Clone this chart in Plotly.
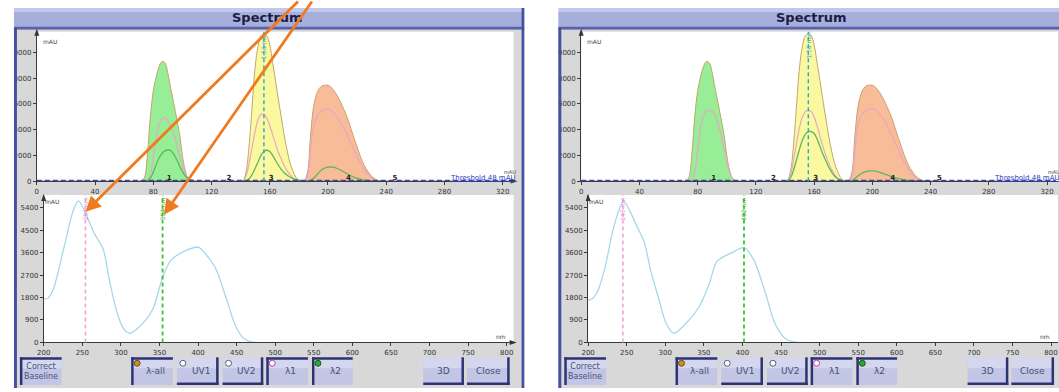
import plotly.graph_objects as go

W, H = 1059, 392
def X(p): return p / W
def Y(p): return 1 - p / H

# ---------------- data ----------------
# chromatogram (top plots), retention axis
chrom_ticks = [0, 40, 80, 120, 160, 200, 240, 280, 320]
chrom_yticks = [0, 2000, 4000, 6000, 8000, 10000]
spec_ticks = [200, 250, 300, 350, 400, 450, 500, 550, 600, 650, 700, 750, 800]
spec_yticks = [0, 900, 1800, 2700, 3600, 4500, 5400]

t_green = [72, 74, 76, 78, 80, 82, 84, 86, 88, 90, 92, 94, 96, 98, 100, 102, 104, 106, 108]
green_outer = [0, 300, 2100, 5000, 7000, 8100, 8900, 9300, 9200, 8400, 7200, 6100, 4900, 3700, 2000, 800, 200, 30, 0]
green_pink_L = [0, 0, 100, 500, 1800, 3300, 4400, 4850, 4900, 4700, 4200, 3700, 2900, 2000, 1200, 500, 150, 30, 0]
green_green_L = [0, 0, 50, 250, 700, 1300, 1800, 2150, 2350, 2420, 2380, 2100, 1700, 1200, 750, 400, 200, 100, 50]
green_pink_R = [0, 0, 100, 700, 2400, 4200, 5100, 5450, 5500, 5450, 5100, 4500, 3600, 2600, 1500, 700, 200, 50, 0]

t_yellow = [140, 142, 144, 146, 148, 150, 152, 154, 156, 158, 160, 162, 164, 166, 168, 170, 172, 174, 176, 178, 180, 182, 184]
yellow_outer = [0, 100, 900, 3000, 6000, 8900, 10500, 11300, 11450, 11300, 10600, 9200, 7800, 6300, 4900, 3500, 2350, 1400, 770, 300, 80, 10, 0]
yellow_pink_L = [0, 50, 500, 1500, 2700, 3900, 4800, 5200, 5200, 4900, 4300, 3600, 2900, 2200, 1700, 1200, 800, 500, 250, 100, 30, 0, 0]
yellow_green_L = [0, 0, 50, 200, 550, 1000, 1500, 2000, 2300, 2400, 2300, 2000, 1600, 1230, 900, 650, 450, 300, 200, 130, 80, 40, 20]
yellow_pink_R = [0, 100, 600, 1700, 3000, 4200, 5000, 5400, 5500, 5400, 5000, 4300, 3500, 2700, 2000, 1400, 900, 500, 250, 100, 30, 0, 0]
yellow_green_R = [0, 50, 300, 900, 1700, 2500, 3200, 3650, 3850, 3850, 3700, 3300, 2700, 2100, 1600, 1100, 700, 400, 200, 100, 40, 10, 0]

t_orange = [184, 186, 188, 190, 192, 194, 196, 198, 200, 202, 204, 206, 208, 210, 212, 214, 216, 218, 220, 222, 224, 226, 228, 230, 232, 234, 236, 238]
orange_outer = [0, 700, 3500, 5700, 6700, 7200, 7400, 7460, 7450, 7300, 7050, 6700, 6300, 5800, 5300, 4700, 4000, 3300, 2650, 2000, 1450, 1000, 650, 380, 200, 60, 10, 0]
orange_pink_L = [0, 400, 2500, 4200, 4900, 5300, 5500, 5600, 5600, 5500, 5300, 5000, 4700, 4300, 3900, 3400, 2900, 2400, 1900, 1450, 1050, 700, 450, 250, 120, 30, 0, 0]
orange_green_L = [0, 0, 50, 200, 450, 700, 900, 1020, 1080, 1100, 1080, 1000, 900, 780, 650, 520, 400, 300, 220, 150, 100, 70, 40, 20, 10, 0, 0, 0]
orange_pink_R = [0, 400, 2500, 4200, 5000, 5350, 5550, 5600, 5600, 5550, 5350, 5050, 4750, 4350, 3900, 3400, 2900, 2400, 1900, 1450, 1050, 700, 450, 250, 120, 30, 0, 0]
orange_green_R = [0, 50, 200, 400, 550, 680, 760, 790, 790, 770, 720, 650, 570, 480, 400, 320, 250, 190, 140, 100, 70, 40, 20, 10, 0, 0, 0, 0]

baseline_t = [0, 326]
baseline_v = [0, 0]
threshold = 48
selected_time = 156
peak_ids = ["1", "2", "3", "4", "5"]
peak_times = [91, 132, 161, 214, 246]

# UV spectra (bottom plots)
wl_L = [200, 205, 212, 220, 230, 238, 245, 253, 260, 266, 277, 285, 294, 303, 311, 324, 341, 354, 365, 384, 400, 410, 423, 436, 449, 459, 470, 480]
abs_L = [1750, 1760, 2100, 3000, 4300, 5270, 5670, 5250, 4750, 4340, 3740, 2500, 1310, 570, 370, 630, 1310, 2600, 3300, 3680, 3820, 3540, 2950, 1820, 630, 170, 10, 0]
wl_R = [200, 204, 211, 221, 232, 241, 246, 254, 264, 273, 281, 292, 301, 311, 327, 344, 357, 367, 387, 402, 415, 430, 442, 455, 468, 480]
abs_R = [1700, 1720, 1960, 2890, 4480, 5390, 5670, 5270, 4600, 4000, 2890, 1700, 770, 370, 770, 1430, 2350, 3250, 3610, 3800, 3290, 1960, 770, 170, 10, 0]
lam1 = [254, 245]
lam2 = [354, 402]

# ---------------- figure ----------------
fig = go.Figure()

OUTLINE = '#c4a46c'
PINK = '#e8a6c4'
GREENL = '#5cb85c'

windows = [
    dict(dx=0, xt='x', yt='y', xb='x2', yb='y2',
         inner=[green_pink_L, yellow_pink_L, orange_pink_L],
         inner_g=[green_green_L, yellow_green_L, orange_green_L],
         wl=wl_L, ab=abs_L, l1=lam1[0], l2=lam2[0]),
    dict(dx=548, xt='x3', yt='y3', xb='x4', yb='y4',
         inner=[green_pink_R, yellow_pink_R, orange_pink_R],
         inner_g=[None, yellow_green_R, orange_green_R],
         wl=wl_R, ab=abs_R, l1=lam1[1], l2=lam2[1]),
]

peaks = [(t_green, green_outer, 'rgba(140,236,140,0.9)'),
         (t_yellow, yellow_outer, 'rgba(251,248,150,0.9)'),
         (t_orange, orange_outer, 'rgba(248,184,146,0.95)')]

shapes = []
annotations = []

def rect(x0, y0, x1, y1, color, layer='below'):
    shapes.append(dict(type='rect', xref='paper', yref='paper', x0=X(x0), x1=X(x1), y0=Y(y1), y1=Y(y0),
                       fillcolor=color, line=dict(width=0), layer=layer))

def text(x, y, s, size=7, color='#333', **kw):
    d = dict(xref='paper', yref='paper', x=X(x), y=Y(y), text=s, showarrow=False,
             xanchor='center', yanchor='middle',
             font=dict(size=size, color=color, family='DejaVu Sans'))
    d.update(kw)
    annotations.append(d)

def tri(points, color='#333'):
    p = 'M ' + ' L '.join(f'{X(a):.5f},{Y(b):.5f}' for a, b in points) + ' Z'
    shapes.append(dict(type='path', xref='paper', yref='paper', path=p, fillcolor=color,
                       line=dict(width=0), layer='above'))

for w in windows:
    dx = w['dx']
    xr = min(521 + dx, 1059)
    # window chrome
    rect(6 + dx, 8, xr, 30, '#a6aedb')
    rect(6 + dx, 8, xr, 12, '#c2c8ec')
    rect(6 + dx, 27, xr, 30, '#5a62aa')
    rect(7 + dx, 30, xr, 392, '#d8d8d8')
    rect(30 + dx, 32, min(510 + dx, 1059), 183, '#ffffff')
    rect(37 + dx, 197, min(510 + dx, 1059), 346, '#ffffff')
    rect(0 + dx if dx == 0 else 521, 0, 7 + dx, 392, '#ffffff', layer='above')
    rect(7 + dx, 28, 10 + dx, 392, '#4650a2', layer='above')
    if dx == 0:
        rect(518, 8, 521, 392, '#4650a2', layer='above')
    text(262 + dx, 18, '<b>Spectrum</b>', size=13, color='#1c1c44')

    # peaks
    for (t, v, fc) in peaks:
        fig.add_trace(go.Scatter(x=t, y=v, mode='lines', fill='tozeroy', fillcolor=fc,
                                 line=dict(color=OUTLINE, width=1, shape='spline'),
                                 xaxis=w['xt'], yaxis=w['yt'], hoverinfo='skip', showlegend=False))
    for (t, _, _), v in zip(peaks, w['inner']):
        fig.add_trace(go.Scatter(x=t, y=v, mode='lines', line=dict(color=PINK, width=1.2, shape='spline'),
                                 xaxis=w['xt'], yaxis=w['yt'], hoverinfo='skip', showlegend=False))
    for (t, _, _), v in zip(peaks, w['inner_g']):
        if v is None:
            continue
        fig.add_trace(go.Scatter(x=t, y=v, mode='lines', line=dict(color=GREENL, width=1.3, shape='spline'),
                                 xaxis=w['xt'], yaxis=w['yt'], hoverinfo='skip', showlegend=False))
    fig.add_trace(go.Scatter(x=baseline_t, y=baseline_v, mode='lines', line=dict(color='#7a6a40', width=1),
                             xaxis=w['xt'], yaxis=w['yt'], hoverinfo='skip', showlegend=False))
    fig.add_trace(go.Scatter(x=baseline_t, y=[threshold, threshold], mode='lines',
                             line=dict(color='#3444b4', width=1.6, dash='5px,3px'),
                             xaxis=w['xt'], yaxis=w['yt'], hoverinfo='skip', showlegend=False))
    fig.add_trace(go.Scatter(x=peak_times, y=[260] * len(peak_times), mode='text', text=[f'<b>{p}</b>' for p in peak_ids],
                             textfont=dict(size=7, color='#222', family='DejaVu Sans'),
                             xaxis=w['xt'], yaxis=w['yt'], hoverinfo='skip', showlegend=False))
    # selected time line
    shapes.append(dict(type='line', xref=w['xt'], yref=w['yt'] + ' domain', x0=selected_time, x1=selected_time,
                       y0=0, y1=1, line=dict(color='#2aa6c6', width=1.4, dash='4px,3px'), layer='above'))
    annotations.append(dict(xref=w['xt'], yref='paper', x=selected_time, y=Y(46), text='1.56 min', textangle=-90,
                            xanchor='center', yanchor='middle',
                            showarrow=False, font=dict(size=6, color='#2aa6c6', family='DejaVu Sans')))
    text(43 + dx, 42, 'mAU', size=6, color='#444')
    text(479 + dx, 180, '<u>Threshold 48 mAU</u>', size=7, color='#3040c0')
    text(506 + dx, 174, 'mAU', size=5, color='#444')

    # spectrum
    fig.add_trace(go.Scatter(x=w['wl'], y=w['ab'], mode='lines',
                             line=dict(color='#a4d8ec', width=1.3, shape='spline', smoothing=0.8),
                             xaxis=w['xb'], yaxis=w['yb'], hoverinfo='skip', showlegend=False))
    shapes.append(dict(type='line', xref=w['xb'], yref=w['yb'] + ' domain', x0=w['l1'], x1=w['l1'],
                       y0=0, y1=1, line=dict(color='#f0a4d8', width=1.6, dash='4px,3px'), layer='above'))
    shapes.append(dict(type='line', xref=w['xb'], yref=w['yb'] + ' domain', x0=w['l2'], x1=w['l2'],
                       y0=0, y1=1, line=dict(color='#3cc03c', width=1.8, dash='4px,3px'), layer='above'))
    annotations.append(dict(xref=w['xb'], yref='paper', x=w['l1'], y=Y(211), text=f"{w['l1']} nm", textangle=-90,
                            xanchor='center', yanchor='middle',
                            showarrow=False, font=dict(size=6, color='#e090c8', family='DejaVu Sans')))
    annotations.append(dict(xref=w['xb'], yref='paper', x=w['l2'], y=Y(211), text=f"{w['l2']} nm", textangle=-90,
                            xanchor='center', yanchor='middle',
                            showarrow=False, font=dict(size=6, color='#30b030', family='DejaVu Sans')))
    text(45 + dx, 204, 'mAU', size=6, color='#444')
    text(497 + dx, 340, 'nm', size=6, color='#444')

    # axis arrows
    tri([(27.5 + dx, 36), (30 + dx, 29), (32.5 + dx, 36)])
    tri([(34.5 + dx, 203), (37 + dx, 196), (39.5 + dx, 203)])
    if dx == 0:
        tri([(507, 180.5), (514, 183), (507, 185.5)])
        tri([(506, 343.5), (513, 346), (506, 348.5)])

    # buttons
    buttons = [('Correct<br>Baseline', 13, 55, True, None),
               ('λ-all', 125, 167, True, ('#c8902a', '#705010')),
               ('UV1', 171, 213, False, ('#ffffff', '#606060')),
               ('UV2', 217, 258, False, ('#ffffff', '#606060')),
               ('λ1', 261, 303, True, ('#ffffff', '#c040a0')),
               ('λ2', 307, 348, True, ('#30a830', '#106010')),
               ('3D', 419, 460, False, None),
               ('Close', 463, 506, False, None)]
    for label, b0, b1, pressed, circ in buttons:
        x0, x1 = b0 + dx, b1 + dx
        if x0 >= 1059:
            continue
        x1c = min(x1, 1059)
        rect(x0, 361, x1c, 389, '#c2c6e4')
        rect(x0, 361, x1c, 372, '#d4d7ee')
        dark = '#2c3274'
        if pressed:
            rect(x0, 361, x1c, 363.5, dark)
            rect(x0, 361, x0 + 2.5, 389, dark)
        else:
            rect(x0, 386.5, x1c, 389, dark)
            if x1 <= 1059:
                rect(x1 - 2.5, 361, x1, 389, dark)
        if circ:
            shapes.append(dict(type='circle', xref='paper', yref='paper', x0=X(x0 + 3), x1=X(x0 + 9),
                               y0=Y(370), y1=Y(364), fillcolor=circ[0], line=dict(color=circ[1], width=1)))
        two = '<br>' in label
        text((x0 + x1) / 2 + (3 if circ else 0), 375, label, size=8 if two else 9, color='#44507a')

# orange call-out arrows (left window)
for hx, hy, tx, ty in [(79, 214, 293, -2), (158, 217, 307, -2)]:
    annotations.append(dict(xref='paper', yref='paper', x=X(hx), y=Y(hy), ax=tx - hx, ay=ty - hy,
                            axref='pixel', ayref='pixel', text='', showarrow=True,
                            arrowhead=2, arrowsize=1.1, arrowwidth=2.8, arrowcolor='#f07a1e'))

ax_common = dict(showgrid=False, zeroline=False, showline=True, linecolor='#3a3a3a', linewidth=1,
                 ticks='outside', ticklen=3, tickcolor='#3a3a3a', tickfont=dict(size=7, color='#333', family='DejaVu Sans'),
                 fixedrange=True, tickformat='d')

top_xr = [0, (510 - 30) / (469 / 320)]
top_yr = [0, (183 - 32) * 2000 / 26]
bot_xr = [200, 200 + (510 - 37) / (466 / 600)]
bot_yr = [0, (346 - 197) * 900 / 22.7]

layout_axes = {}
for i, dx in [(0, 0), (1, 548)]:
    a = 1 + 2 * i
    b = 2 + 2 * i
    xa = 'xaxis' if a == 1 else f'xaxis{a}'
    ya = 'yaxis' if a == 1 else f'yaxis{a}'
    layout_axes[xa] = dict(ax_common, domain=[X(30 + dx), X(min(510 + dx, 1058))], range=top_xr,
                           anchor='y' if a == 1 else f'y{a}', tickvals=chrom_ticks)
    layout_axes[ya] = dict(ax_common, domain=[Y(183), Y(32)], range=top_yr,
                           anchor='x' if a == 1 else f'x{a}', tickvals=chrom_yticks)
    layout_axes[f'xaxis{b}'] = dict(ax_common, domain=[X(37 + dx), X(min(510 + dx, 1058))], range=bot_xr,
                                    anchor=f'y{b}', tickvals=spec_ticks)
    layout_axes[f'yaxis{b}'] = dict(ax_common, domain=[Y(346), Y(197)], range=bot_yr,
                                    anchor=f'x{b}', tickvals=spec_yticks)

fig.update_layout(width=W, height=H, autosize=False, margin=dict(l=0, r=0, t=0, b=0),
                  paper_bgcolor='#ffffff', plot_bgcolor='rgba(0,0,0,0)', showlegend=False,
                  shapes=shapes, annotations=annotations, **layout_axes)

fig.write_html("out.html", config={'displayModeBar': False},
               post_script="document.body.style.margin='0';")
